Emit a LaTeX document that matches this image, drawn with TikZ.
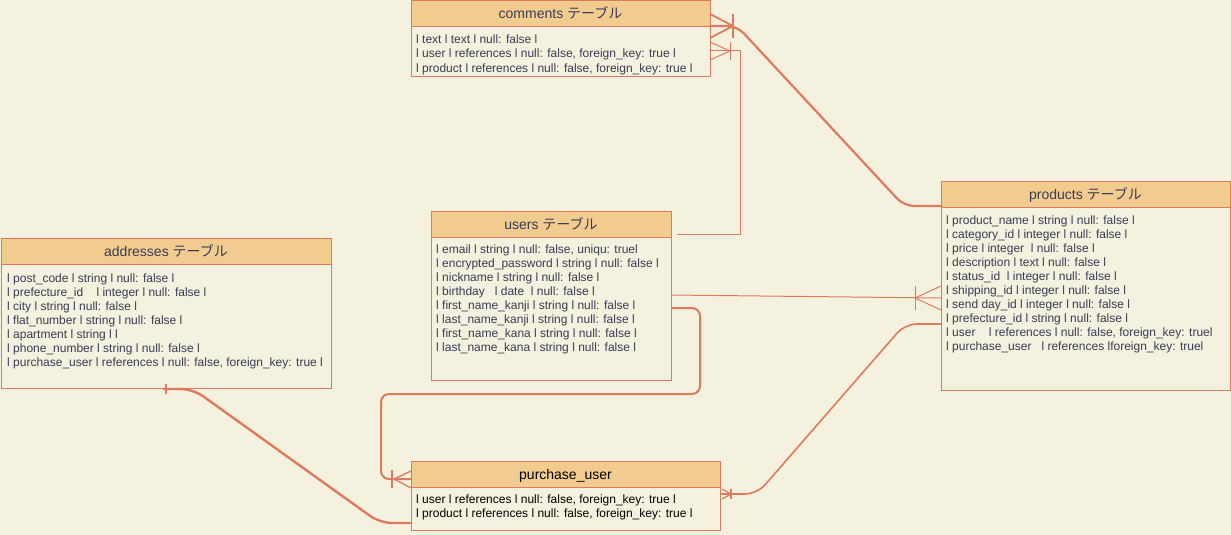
\documentclass[tikz,border=0pt]{standalone}
\usepackage{fontspec}
\setmainfont{Liberation Sans}
\newfontfamily\jp{Noto Sans CJK JP}
\usetikzlibrary{calc}
\definecolor{bg}{HTML}{F4F1DE}
\definecolor{hd}{HTML}{F2CC8F}
\definecolor{ln}{HTML}{E07A5F}
\definecolor{tx}{HTML}{393C56}
\tikzset{
 tbl/.style={draw=ln, fill=bg, line width=1pt, inner sep=0pt, outer sep=0pt, anchor=north west},
 hdr/.style={draw=ln, fill=hd, line width=1pt, inner sep=0pt, outer sep=0pt, anchor=north west,
   minimum height=26pt, text height=11pt, text depth=1pt, font=\fontsize{14pt}{16pt}\selectfont, text=tx},
 row/.style={anchor=base west, inner sep=0pt, font=\fontsize{12pt}{14pt}\selectfont, text=tx},
 rel/.style={draw=ln, line width=1pt},
 relthin/.style={draw=ln, line width=1pt, line join=round},
}
\begin{document}
\begin{tikzpicture}[x=1pt,y=-1pt]
\fill[bg] (0,0) rectangle (1231,535);
\useasboundingbox (0,0) rectangle (1231,535);

% tables
\node[tbl, minimum width=299pt, minimum height=75pt] (comments) at (411,1) {};
\node[hdr, minimum width=299pt] (comments-h) at (411,1) {comments {\jp テーブル}};
\foreach \r [count=\i from 0] in {
 {l text l text l null: false l},
 {l user l references l null: false, foreign\_key: true l},
 {l product l references l null: false, foreign\_key: true l}}
 {\node[row] (comments-\i) at (416,44+14*\i) {\r};}

\node[tbl, minimum width=240pt, minimum height=169pt] (users) at (431,211) {};
\node[hdr, minimum width=240pt] (users-h) at (431,211) {users {\jp テーブル}};
\foreach \r [count=\i from 0] in {
 {l email l string l null: false, uniqu: truel},
 {l encrypted\_password l string l null: false l},
 {l nickname l string l null: false l},
 {l birthday~~~l date~~l null: false l},
 {l first\_name\_kanji l string l null: false l},
 {l last\_name\_kanji l string l null: false l},
 {l first\_name\_kana l string l null: false l},
 {l last\_name\_kana l string l null: false l}}
 {\node[row] (users-\i) at (436,253+14*\i) {\r};}

\node[tbl, minimum width=330pt, minimum height=150pt] (addresses) at (1,238) {};
\node[hdr, minimum width=330pt] (addresses-h) at (1,238) {addresses {\jp テーブル}};
\foreach \r [count=\i from 0] in {
 {l post\_code l string l null: false l},
 {l prefecture\_id~~~~l integer l null: false l},
 {l city l string l null: false l},
 {l flat\_number l string l null: false l},
 {l apartment l string l l},
 {l phone\_number l string l null: false l},
 {l purchase\_user l references l null: false, foreign\_key: true l}}
 {\node[row] (addresses-\i) at (7,282+14*\i) {\r};}

\node[tbl, minimum width=289pt, minimum height=209pt] (products) at (941,181) {};
\node[hdr, minimum width=289pt] (products-h) at (941,181) {products {\jp テーブル}};
\foreach \r [count=\i from 0] in {
 {l product\_name l string l null: false l},
 {l category\_id l integer l null: false l},
 {l price l integer~~l null: false l},
 {l description l text l null: false l},
 {l status\_id~~l integer l null: false l},
 {l shipping\_id l integer l null: false l},
 {l send day\_id l integer l null: false l},
 {l prefecture\_id l string l null: false l},
 {l user~~~~l references l null: false, foreign\_key: truel},
 {l purchase\_user~~~l references lforeign\_key: truel}}
 {\node[row] (products-\i) at (946,224+14*\i) {\r};}

\node[tbl, minimum width=309pt, minimum height=69pt] (purchase) at (411,461) {};
\node[hdr, minimum width=309pt, text=black] (purchase-h) at (411,461) {purchase\_user};
\foreach \r [count=\i from 0] in {
 {l user l references l null: false, foreign\_key: true l},
 {l product l references l null: false, foreign\_key: true l}}
 {\node[row, text=black] (purchase-\i) at (416,503+14*\i) {\r};}

% comments -- products
\draw[ln, line width=2.2pt, rounded corners=10pt] (comments.east |- 0,26) -- (737,26) -- (904,206) -- (products.west |- 0,206);
\draw[ln, line width=1.8pt] (710,14) -- (733,26) -- (710,38);
\draw[ln, line width=1.8pt] (733,14) -- (733,38);

% users -- comments
\draw[relthin] ($(users.east |- 0,234)+(6,0)$) -- (740,234) -- (740,51) -- (comments.east |- 0,51);
\draw[rel] (710,42) -- (730,51) -- (710,60);
\draw[rel] (730,42) -- (730,60);

% users -- products
\draw[rel] (users.east |- 0,295) -- (products.west |- 0,298);
\draw[rel] (941,286) -- (915,298) -- (941,310);
\draw[rel] (915,286) -- (915,310);

% users -- purchase_user
\draw[ln, line width=2pt, rounded corners=8pt] (users.east |- 0,308) -- (700,308) -- (700,394) -- (381,394) -- (381,479) -- (purchase.west |- 0,479);
\draw[ln, line width=1.3pt] (411,471) -- (394,479) -- (411,488);
\draw[ln, line width=1.3pt] (392,470) -- (392,488);

% purchase_user -- products
\draw[ln, line width=1.6pt, rounded corners=12pt] (products.west |- 0,324) -- (905,324) -- (757,494) -- (purchase.east |- 0,494);
\draw[ln, line width=1.3pt] (722,489) -- (731,494) -- (722,499);
\draw[ln, line width=1.3pt] (731,489) -- (731,499);

% addresses -- purchase_user
\coordinate (a6) at ($(addresses.south west)+(162,1)$);
\draw[ln, line width=2.4pt, rounded corners=12pt] (a6) -- (193,389) -- (380,523) -- (purchase.west |- 0,523);
\draw[ln, line width=2pt] (166,384) -- (166,394);
\end{tikzpicture}
\end{document}
